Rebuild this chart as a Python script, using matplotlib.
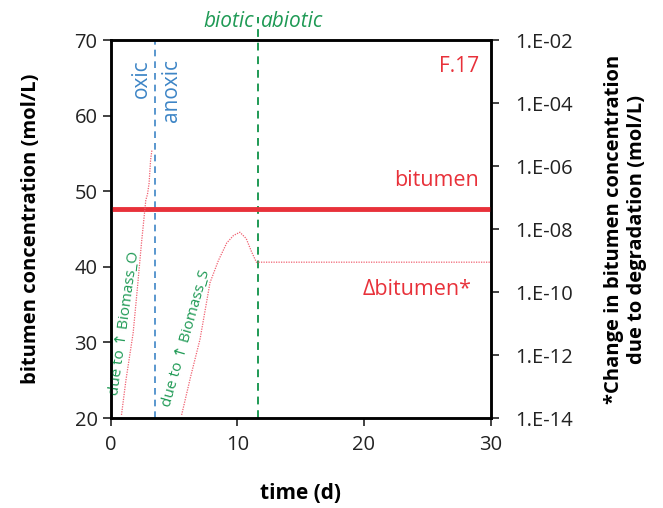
import numpy as np
import matplotlib.pyplot as plt
from matplotlib.ticker import FixedLocator, FuncFormatter

plt.rcParams['font.family'] = ['Open Sans', 'DejaVu Sans']

# bitumen concentration (left axis, mol/L)
bit_t = [0, 30]
bit_c = [47.7, 47.7]

# change in bitumen concentration (right axis, log10 mol/L)
d1_t = [0.85, 1.2, 1.77, 2.1, 2.43, 2.77, 2.9, 3.03, 3.15, 3.25]
d1_log = [-13.9, -12.8, -11.3, -9.9, -8.44, -7.08, -6.9, -6.54, -5.8, -5.5]
d2_t = [5.6, 6.3, 7.05, 7.84, 8.5, 9.16, 9.7, 10.2, 10.7, 11.1, 11.5, 30]
d2_log = [-13.9, -12.7, -11.5, -9.7, -9.0, -8.44, -8.2, -8.1, -8.3, -8.7, -9.05, -9.05]

t_oxic = 3.5
t_biotic = 11.6

red = '#e8313a'
green = '#1f9a55'
blue = '#3d85c6'

fig = plt.figure(figsize=(6.63, 5.08), dpi=100)
ax = fig.add_axes([0.167, 0.177, 0.573, 0.744])
ax2 = ax.twinx()

ax.set_xlim(0, 30)
ax.set_ylim(20, 70)
ax2.set_yscale('log')
ax2.set_ylim(1e-14, 1e-2)

ax.plot(bit_t, bit_c, color=red, lw=3.5, zorder=3)
ax2.plot(d1_t, 10 ** np.array(d1_log), color='#f06070', lw=0.9, ls=(0, (1, 1)))
ax2.plot(d2_t, 10 ** np.array(d2_log), color='#f06070', lw=0.9, ls=(0, (1, 1)))

ax.axvline(t_oxic, color=blue, lw=1.2, ls=(0, (4, 3)))
ax.plot([t_biotic, t_biotic], [20, 73], color=green, lw=1.4, ls=(0, (4, 3)),
        clip_on=False)

for a in (ax, ax2):
    for s in a.spines.values():
        s.set_linewidth(1.8)
ax.set_xticks([0, 10, 20, 30])
ax.set_yticks([20, 30, 40, 50, 60, 70])
ax.tick_params(direction='out', length=6, width=1.2, labelsize=14.5, colors='#222222')
ax.tick_params(axis='x', pad=6)
ax2.yaxis.set_major_locator(FixedLocator([10.0 ** e for e in range(-14, -1, 2)]))
ax2.yaxis.set_minor_locator(FixedLocator([]))
ax2.yaxis.set_major_formatter(FuncFormatter(lambda v, p: '1.E-%02d' % round(-np.log10(v))))
ax2.tick_params(direction='out', length=6, width=1.2, labelsize=14.5, colors='#222222', pad=12)

ax.set_xlabel('time (d)', fontsize=15, fontweight='bold', labelpad=20)
ax.set_ylabel('bitumen concentration (mol/L)', fontsize=14.5, fontweight='bold',
              labelpad=24)
ax2.set_ylabel('*Change in bitumen concentration\ndue to degradation (mol/L)',
               fontsize=14.5, fontweight='bold', labelpad=22)

ax.text(0.97, 0.93, 'F.17', transform=ax.transAxes, color=red, fontsize=15,
        ha='right', va='center')
ax.text(0.97, 0.6, 'bitumen', color=red, fontsize=15.5, transform=ax.transAxes,
        ha='right', va='bottom')
ax.text(0.95, 0.34, '\u0394bitumen*', color=red, fontsize=15.5, transform=ax.transAxes,
        ha='right', va='center')
ax.text(t_biotic - 0.3, 72.5, 'biotic', color=green, fontsize=15, style='italic',
        ha='right', va='center')
ax.text(t_biotic + 0.3, 72.5, 'abiotic', color=green, fontsize=15, style='italic',
        ha='left', va='center')
ax.text(t_oxic - 0.25, 67.5, 'oxic', color=blue, fontsize=15, rotation=90,
        ha='right', va='top')
ax.text(t_oxic + 0.5, 67.5, 'anoxic', color=blue, fontsize=15, rotation=90,
        ha='left', va='top')
ax.text(1.1, 32.5, 'due to \u2191 Biomass_O', color=green, fontsize=11, rotation=82,
        ha='center', va='center')
ax.text(6.0, 30.6, 'due to \u2191 Biomass_S', color=green, fontsize=11, rotation=74,
        ha='center', va='center')

fig.savefig('out.png', dpi=100)
